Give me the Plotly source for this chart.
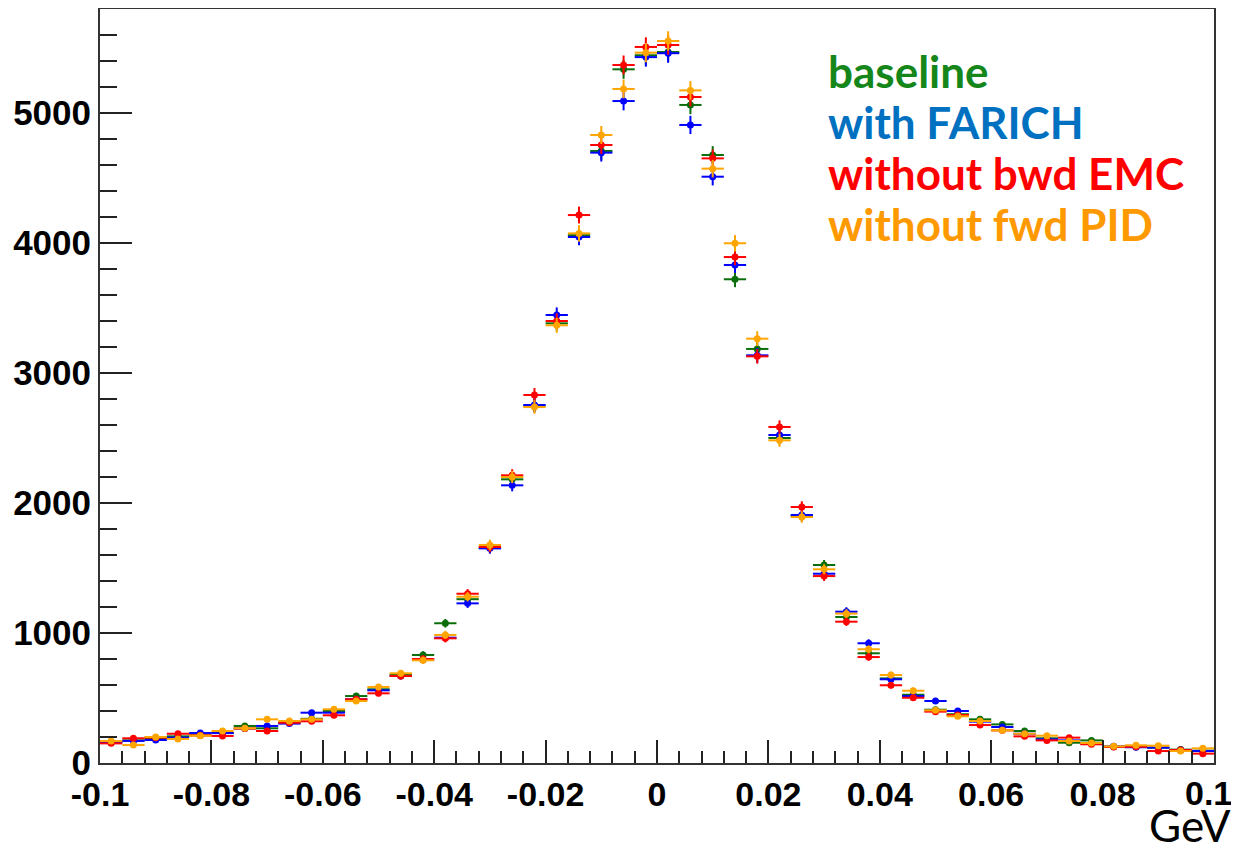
import plotly.graph_objects as go

# bin centres (GeV), 50 bins of width 0.004 from -0.1 to 0.1
centers = [round(-0.098 + 0.004 * i, 3) for i in range(50)]

baseline = [160, 174, 190, 205, 213, 231, 285, 267, 310, 340,
            400, 515, 567, 680, 831, 1075, 1260, 1655, 2182, 2750,
            3382, 4060, 4708, 5336, 5444, 5469, 5062, 4677, 3721, 3185,
            2500, 1900, 1523, 1123, 844, 651, 525, 410, 375, 336,
            297, 246, 190, 156, 174, 125, 125, 118, 103, 95]
with_farich = [160, 170, 177, 195, 231, 230, 265, 285, 303, 387,
               387, 490, 559, 669, 795, 964, 1228, 1651, 2136, 2754,
               3446, 4046, 4695, 5092, 5430, 5460, 4908, 4510, 3831, 3136,
               2523, 1908, 1456, 1164, 921, 644, 515, 477, 400, 318,
               277, 225, 182, 174, 150, 128, 121, 118, 100, 92]
without_bwd_emc = [151, 190, 195, 225, 213, 208, 265, 246, 310, 321,
                   367, 490, 536, 669, 800, 959, 1302, 1662, 2213, 2831,
                   3400, 4215, 4754, 5369, 5508, 5523, 5123, 4651, 3892, 3128,
                   2585, 1969, 1438, 1087, 815, 598, 502, 395, 369, 292,
                   251, 205, 174, 195, 144, 123, 125, 92, 100, 72]
without_fwd_pid = [169, 138, 200, 185, 210, 246, 267, 336, 323, 336,
                   413, 477, 585, 690, 790, 985, 1279, 1677, 2200, 2738,
                   3367, 4074, 4831, 5185, 5464, 5554, 5174, 4572, 3998, 3264,
                   2482, 1892, 1490, 1149, 875, 677, 556, 405, 359, 323,
                   251, 225, 210, 169, 154, 128, 136, 133, 92, 113]

series_names = ["baseline", "with FARICH", "without bwd EMC", "without fwd PID"]
marker_colors = ["#0b6e0b", "#0000ff", "#ff0000", "#ffa500"]
label_colors = ["#15861a", "#0070c0", "#ff0000", "#ff9900"]

x_tickvals = [-0.1, -0.08, -0.06, -0.04, -0.02, 0, 0.02, 0.04, 0.06, 0.08, 0.1]
x_ticktext = ["-0.1", "-0.08", "-0.06", "-0.04", "-0.02", "0", "0.02", "0.04", "0.06", "0.08", "0.1"]
y_tickvals = [0, 1000, 2000, 3000, 4000, 5000]
y_ticktext = ["0", "1000", "2000", "3000", "4000", "5000"]

fig = go.Figure()
for name, vals, col in zip(series_names,
                           [baseline, with_farich, without_bwd_emc, without_fwd_pid],
                           marker_colors):
    fig.add_trace(go.Scatter(
        x=centers, y=vals, mode="markers", name=name,
        marker=dict(color=col, size=7, symbol="circle"),
        error_x=dict(type="constant", value=0.002, width=0, thickness=2, color=col),
        error_y=dict(type="sqrt", width=0, thickness=2, color=col),
        showlegend=False,
    ))

xfont = dict(family="Liberation Sans, Arial, sans-serif", size=34, color="#000", weight="bold")
yfont = dict(family="Liberation Sans, Arial, sans-serif", size=35, color="#000", weight="bold")

# the last x label is drawn as an annotation (slightly shifted left) so it is not clipped
shown_ticktext = x_ticktext[:-1] + [""]

# page body adds an 8px offset; figure is sized to compensate
fig.update_layout(
    width=1231, height=834,
    margin=dict(l=92, r=25, t=1, b=79, autoexpand=False),
    paper_bgcolor="white", plot_bgcolor="white",
    showlegend=False,
    xaxis=dict(
        range=[-0.1, 0.1], tickmode="array", tickvals=x_tickvals, ticktext=shown_ticktext,
        ticks="inside", ticklen=23, tickwidth=2, tickcolor="#222",
        minor=dict(ticks="inside", dtick=0.004, tick0=0, ticklen=12, tickwidth=2, tickcolor="#222"),
        showline=True, linecolor="#333", linewidth=2, mirror=True,
        showgrid=False, zeroline=False, tickfont=xfont, automargin=False,
    ),
    yaxis=dict(
        range=[0, 5800], tickmode="array", tickvals=y_tickvals, ticktext=y_ticktext,
        ticks="inside", ticklen=32, tickwidth=2, tickcolor="#222",
        minor=dict(ticks="inside", dtick=200, tick0=0, ticklen=17, tickwidth=2, tickcolor="#222"),
        showline=True, linecolor="#333", linewidth=2, mirror=True,
        showgrid=False, zeroline=False, tickfont=yfont, automargin=False,
    ),
)

fig.add_annotation(
    x=x_tickvals[-1], y=0, xref="x", yref="paper", xanchor="center", yanchor="top",
    xshift=-6, yshift=-9, text=x_ticktext[-1], showarrow=False,
    font=xfont,
)

legend_y = [0.918, 0.850, 0.782, 0.715]
for name, col, yy in zip(series_names, label_colors, legend_y):
    fig.add_annotation(
        x=0.652, y=yy, xref="paper", yref="paper", xanchor="left", yanchor="middle",
        text="<b>" + name + "</b>", showarrow=False,
        font=dict(family="Lato, Open Sans, sans-serif", size=44, color=col),
    )

fig.add_annotation(
    x=1.0175, y=-0.082, xref="paper", yref="paper", xanchor="right", yanchor="middle",
    text="GeV", showarrow=False,
    font=dict(family="Lato, Open Sans, sans-serif", size=44, color="#000"),
)

fig.write_html("out.html")
